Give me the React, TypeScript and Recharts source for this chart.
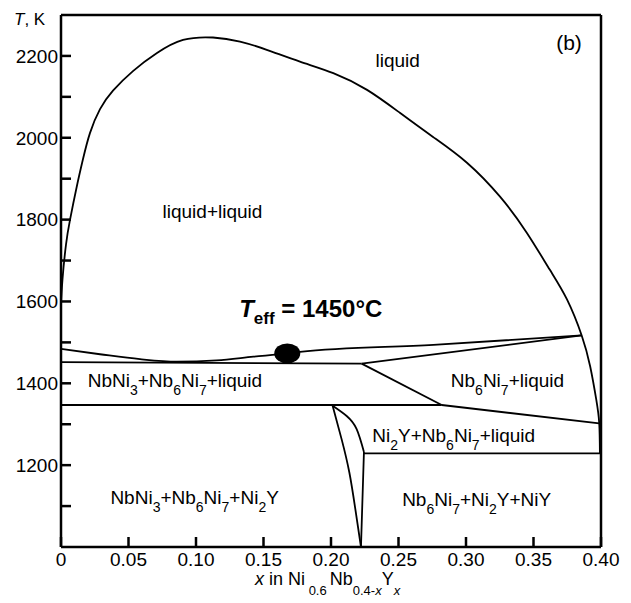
import React from 'react';
import { ComposedChart, Line, XAxis, YAxis, ReferenceLine, ReferenceDot } from 'recharts';

const FONT = '"Liberation Sans", Arial, Helvetica, sans-serif';

// ---- axes ----
const xTicks = [0, 0.05, 0.1, 0.15, 0.2, 0.25, 0.3, 0.35, 0.4];
const xTickLabels = ['0', '0.05', '0.10', '0.15', '0.20', '0.25', '0.30', '0.35', '0.40'];
const yTicks = [1100, 1200, 1300, 1400, 1500, 1600, 1700, 1800, 1900, 2000, 2100, 2200];
const yLabelled = [1200, 1400, 1600, 1800, 2000, 2200];

// ---- phase boundaries (x, T in K) ----
const miscibilityGap = [
  { x: 0, T: 1590 }, { x: 0.0011, T: 1654 }, { x: 0.0037, T: 1739 }, { x: 0.0067, T: 1800 },
  { x: 0.0115, T: 1878 }, { x: 0.0163, T: 1948 }, { x: 0.0215, T: 2012 }, { x: 0.0289, T: 2070 },
  { x: 0.0385, T: 2115 }, { x: 0.0533, T: 2163 }, { x: 0.0711, T: 2207 }, { x: 0.0904, T: 2239 },
  { x: 0.1126, T: 2245 }, { x: 0.1326, T: 2235 }, { x: 0.1524, T: 2215 }, { x: 0.177, T: 2186 },
  { x: 0.2017, T: 2158 }, { x: 0.2267, T: 2117 }, { x: 0.251, T: 2061 }, { x: 0.2756, T: 2002 },
  { x: 0.3007, T: 1939 }, { x: 0.3252, T: 1856 }, { x: 0.345, T: 1768 }, { x: 0.362, T: 1678 },
  { x: 0.3748, T: 1605 }, { x: 0.3857, T: 1517 }, { x: 0.392, T: 1441 }, { x: 0.3965, T: 1360 },
  { x: 0.3987, T: 1302 }, { x: 0.3992, T: 1227 },
];
const upperLiquidus = [
  { x: 0, T: 1484 }, { x: 0.0289, T: 1471 }, { x: 0.0585, T: 1459 }, { x: 0.0857, T: 1453 },
  { x: 0.1153, T: 1456 }, { x: 0.1425, T: 1465 }, { x: 0.1676, T: 1473 }, { x: 0.177, T: 1477 },
  { x: 0.2758, T: 1494 }, { x: 0.3857, T: 1517 },
];
const isotherm1450 = [{ x: 0, T: 1452 }, { x: 0.2227, T: 1448 }];
const slantUp = [{ x: 0.2227, T: 1448 }, { x: 0.3857, T: 1517 }];
const slantDown = [{ x: 0.2227, T: 1448 }, { x: 0.282, T: 1347 }];
const isotherm1347 = [{ x: 0, T: 1347 }, { x: 0.282, T: 1347 }];
const nb6ni7Liquidus = [{ x: 0.282, T: 1347 }, { x: 0.3987, T: 1302 }];
const lensLeft = [
  { x: 0.2012, T: 1345 }, { x: 0.2079, T: 1263 }, { x: 0.2136, T: 1182 },
  { x: 0.218, T: 1093 }, { x: 0.2222, T: 1000 },
];
const lensRight = [
  { x: 0.2012, T: 1345 }, { x: 0.2116, T: 1320 }, { x: 0.219, T: 1288 }, { x: 0.2244, T: 1232 },
];
const lensVertical = [{ x: 0.2244, T: 1232 }, { x: 0.2222, T: 1000 }];
const isotherm1229 = [{ x: 0.2244, T: 1229 }, { x: 0.3992, T: 1229 }];

const naturalSeries = [miscibilityGap, lensLeft, lensRight];
const monotoneSeries = [upperLiquidus];
const straightSeries = [isotherm1450, slantUp, slantDown, isotherm1347, nb6ni7Liquidus, lensVertical, isotherm1229];

// ---- point and region labels ----
const effPoint = { x: 0.1676, T: 1473 };
const regionLabels = [
  { x: 0.2494, T: 2173, text: 'liquid' },
  { x: 0.1122, T: 1805, text: 'liquid+liquid' },
  { x: 0.0844, T: 1390, text: 'NbNi_3+Nb_6Ni_7+liquid' },
  { x: 0.3307, T: 1390, text: 'Nb_6Ni_7+liquid' },
  { x: 0.2909, T: 1256, text: 'Ni_2Y+Nb_6Ni_7+liquid' },
  { x: 0.099, T: 1105, text: 'NbNi_3+Nb_6Ni_7+Ni_2Y' },
  { x: 0.3079, T: 1100, text: 'Nb_6Ni_7+Ni_2Y+NiY' },
];
const panelLabel = { x: 0.3763, T: 2215, text: '(b)' };
const effLabel = { x: 0.185, T: 1561 };

function chemSpans(s: string, sub: number, d: number) {
  const parts = s.split(/(_\d)/);
  const out: any[] = [];
  let down = false;
  parts.forEach((p, i) => {
    if (!p) return;
    if (p.startsWith('_')) {
      out.push(<tspan key={i} fontSize={sub} dy={d}>{p.slice(1)}</tspan>);
      down = true;
    } else {
      out.push(<tspan key={i} dy={down ? -d : 0}>{p}</tspan>);
      down = false;
    }
  });
  return out;
}

const XTitle = (props: any) => {
  const vb = props.viewBox;
  const x0 = vb.x + 194;
  const y0 = vb.y + 38;
  return (
    <text x={x0} y={y0} fontFamily={FONT} fontSize={18} fill="#000">
      <tspan fontStyle="italic">x</tspan>
      <tspan>{' in Ni'}</tspan>
      <tspan fontSize={13} dy={10}>{' 0.6'}</tspan>
      <tspan dy={-10} dx={3}>Nb</tspan>
      <tspan fontSize={13} dy={10}>0.4-</tspan>
      <tspan fontSize={13} fontStyle="italic">x</tspan>
      <tspan dy={-10} dx={0}>Y</tspan>
      <tspan fontSize={13} fontStyle="italic" dy={10}>x</tspan>
    </text>
  );
};

const YTitle = (props: any) => {
  const vb = props.viewBox;
  return (
    <text x={vb.x + 14} y={vb.y + 10} fontFamily={FONT} fontSize={17} fill="#000">
      <tspan fontStyle="italic">T</tspan>
      <tspan>, K</tspan>
    </text>
  );
};

const lineProps = {
  dataKey: 'T',
  stroke: '#000',
  strokeWidth: 1.8,
  dot: false,
  activeDot: false,
  isAnimationActive: false,
};

export default function App() {
  return (
    <div style={{ position: 'absolute', left: 0, top: 0, width: 631, height: 603, background: '#fff' }}>
      <ComposedChart width={631} height={603} margin={{ top: 15, right: 30, bottom: 0, left: 0 }}>
        <XAxis
          type="number"
          dataKey="x"
          domain={[0, 0.4]}
          ticks={xTicks}
          interval={0}
          allowDataOverflow
          height={56}
          tickSize={-10}
          tickMargin={16}
          tickFormatter={(v: number) => xTickLabels[xTicks.findIndex((t) => Math.abs(t - v) < 1e-9)] ?? ''}
          axisLine={{ stroke: '#000', strokeWidth: 2.5 }}
          tickLine={{ stroke: '#000', strokeWidth: 2.5 }}
          tick={{ fill: '#000', fontSize: 19, fontFamily: FONT }}
          label={{ content: XTitle }}
        />
        <YAxis
          type="number"
          dataKey="T"
          domain={[1000, 2300]}
          ticks={yTicks}
          interval={0}
          allowDataOverflow
          width={61}
          tickSize={-10}
          tickMargin={13}
          tickFormatter={(v: number) => (yLabelled.includes(v) ? String(v) : '')}
          axisLine={{ stroke: '#000', strokeWidth: 2.5 }}
          tickLine={{ stroke: '#000', strokeWidth: 2.5 }}
          tick={{ fill: '#000', fontSize: 19, fontFamily: FONT }}
          label={{ content: YTitle }}
        />
        <ReferenceLine y={2300} stroke="#000" strokeWidth={2.5} />
        <ReferenceLine x={0.4} stroke="#000" strokeWidth={2.5} />
        {naturalSeries.map((d, i) => (
          <Line key={'n' + i} data={d} type="natural" {...lineProps} />
        ))}
        {monotoneSeries.map((d, i) => (
          <Line key={'m' + i} data={d} type="monotone" {...lineProps} />
        ))}
        {straightSeries.map((d, i) => (
          <Line key={'s' + i} data={d} type="linear" {...lineProps} />
        ))}
        <ReferenceDot
          x={effPoint.x}
          y={effPoint.T}
          r={0}
          ifOverflow="visible"
          shape={(p: any) => <ellipse cx={p.cx} cy={p.cy} rx={13} ry={10} fill="#000" />}
        />
        {regionLabels.map((l, i) => (
          <ReferenceDot
            key={'l' + i}
            x={l.x}
            y={l.T}
            r={0}
            ifOverflow="visible"
            shape={(p: any) => (
              <text x={p.cx} y={p.cy} textAnchor="middle" fontFamily={FONT} fontSize={19} fill="#000">
                {chemSpans(l.text, 14, 8)}
              </text>
            )}
          />
        ))}
        <ReferenceDot
          x={panelLabel.x}
          y={panelLabel.T}
          r={0}
          ifOverflow="visible"
          shape={(p: any) => (
            <text x={p.cx} y={p.cy} textAnchor="middle" fontFamily={FONT} fontSize={21} fill="#000">
              {panelLabel.text}
            </text>
          )}
        />
        <ReferenceDot
          x={effLabel.x}
          y={effLabel.T}
          r={0}
          ifOverflow="visible"
          shape={(p: any) => (
            <text x={p.cx} y={p.cy} textAnchor="middle" fontFamily={FONT} fontSize={24} fontWeight="bold" fill="#000">
              <tspan fontStyle="italic">T</tspan>
              <tspan fontSize={17} dy={7}>eff</tspan>
              <tspan dy={-7}>{' = 1450°C'}</tspan>
            </text>
          )}
        />
      </ComposedChart>
    </div>
  );
}
